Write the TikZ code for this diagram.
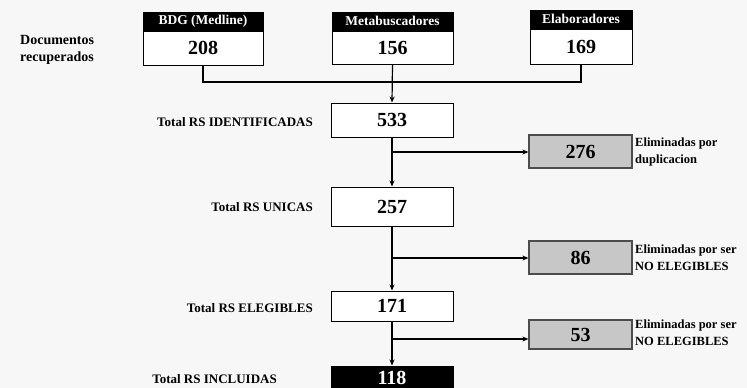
\documentclass[tikz,border=0pt]{standalone}
\usepackage{fontspec}
\setmainfont{Liberation Serif}
\usetikzlibrary{arrows.meta}
\begin{document}
\begin{tikzpicture}[x=1pt,y=-1pt,
  hdr/.style={draw=black,fill=black,text=white,font=\bfseries\fontsize{13.5}{14}\selectfont,inner sep=0pt,line width=1pt},
  body/.style={draw=black,fill=white,font=\bfseries\fontsize{20}{22}\selectfont,inner sep=0pt,line width=1pt},
  grey/.style={draw=black!70,fill=black!22,font=\bfseries\fontsize{20}{22}\selectfont,inner sep=0pt,line width=1.2pt},
  lbl/.style={font=\bfseries\fontsize{13}{15}\selectfont,inner sep=0pt},
  side/.style={font=\bfseries\fontsize{12.5}{17}\selectfont,inner sep=0pt,align=left,anchor=west},
  conn/.style={line width=1.2pt},
  arr/.style={line width=1.2pt,-{Stealth[length=6pt,width=5pt]}}
]
\useasboundingbox[fill=black!3] (0,0) rectangle (747,388);
% top sources
\node[hdr,minimum width=120,minimum height=18] (bdgh) at (203,21) {BDG (Medline)};
\node[body,minimum width=120,minimum height=34,anchor=north] (bdg) at (bdgh.south) {208};
\node[hdr,minimum width=121,minimum height=18] (metah) at (392.5,21) {Metabuscadores};
\node[body,minimum width=121,minimum height=33,anchor=north] (meta) at (metah.south) {156};
\node[hdr,minimum width=102,minimum height=18] (elabh) at (581,19) {Elaboradores};
\node[body,minimum width=102,minimum height=35,anchor=north] (elab) at (elabh.south) {169};
\node[lbl,font=\bfseries\fontsize{14}{17}\selectfont,align=left,anchor=west] (doc) at (20,50) {Documentos\\recuperados};
% main column
\node[body,minimum width=122,minimum height=34] (ident) at (392,120) {533};
\node[body,minimum width=122,minimum height=39] (unic) at (392,206.5) {257};
\node[body,minimum width=122,minimum height=30] (eleg) at (392,306) {171};
\node[body,fill=black,text=white,minimum width=122,minimum height=24] (incl) at (392,378) {118};
\node[lbl,anchor=east] (lident) at (313,122) {Total RS IDENTIFICADAS};
\node[lbl,anchor=east] (lunic) at (313,207) {Total RS UNICAS};
\node[lbl,anchor=east] (leleg) at (313,308) {Total RS ELEGIBLES};
\node[lbl,anchor=east] (lincl) at (277,379) {Total RS INCLUIDAS};
% side boxes
\node[grey,minimum width=103,minimum height=33] (d1) at (580.5,151.5) {276};
\node[grey,minimum width=103,minimum height=33] (d2) at (580.5,257.5) {86};
\node[grey,minimum width=103,minimum height=29] (d3) at (580.5,334.5) {53};
\node[side] (t1) at (635,152) {Eliminadas por\\duplicacion};
\node[side] (t2) at (635,258) {Eliminadas por ser\\NO ELEGIBLES};
\node[side] (t3) at (635,333) {Eliminadas por ser\\NO ELEGIBLES};
% connectors
\coordinate (j) at (392,82);
\draw[conn] (bdg.south) |- (j) -| (elab.south);
\draw[arr] (meta.south) -- (ident.north);
\draw[arr] (ident.south) -- (unic.north);
\draw[arr] (unic.south) -- (eleg.north);
\draw[arr] (eleg.south) -- (incl.north);
\coordinate (b1) at (392,152);
\coordinate (b2) at (392,258);
\coordinate (b3) at (392,339);
\draw[arr] (b1) -- (b1 -| d1.west);
\draw[arr] (b2) -- (b2 -| d2.west);
\draw[arr] (b3) -- (b3 -| d3.west);
\end{tikzpicture}
\end{document}
